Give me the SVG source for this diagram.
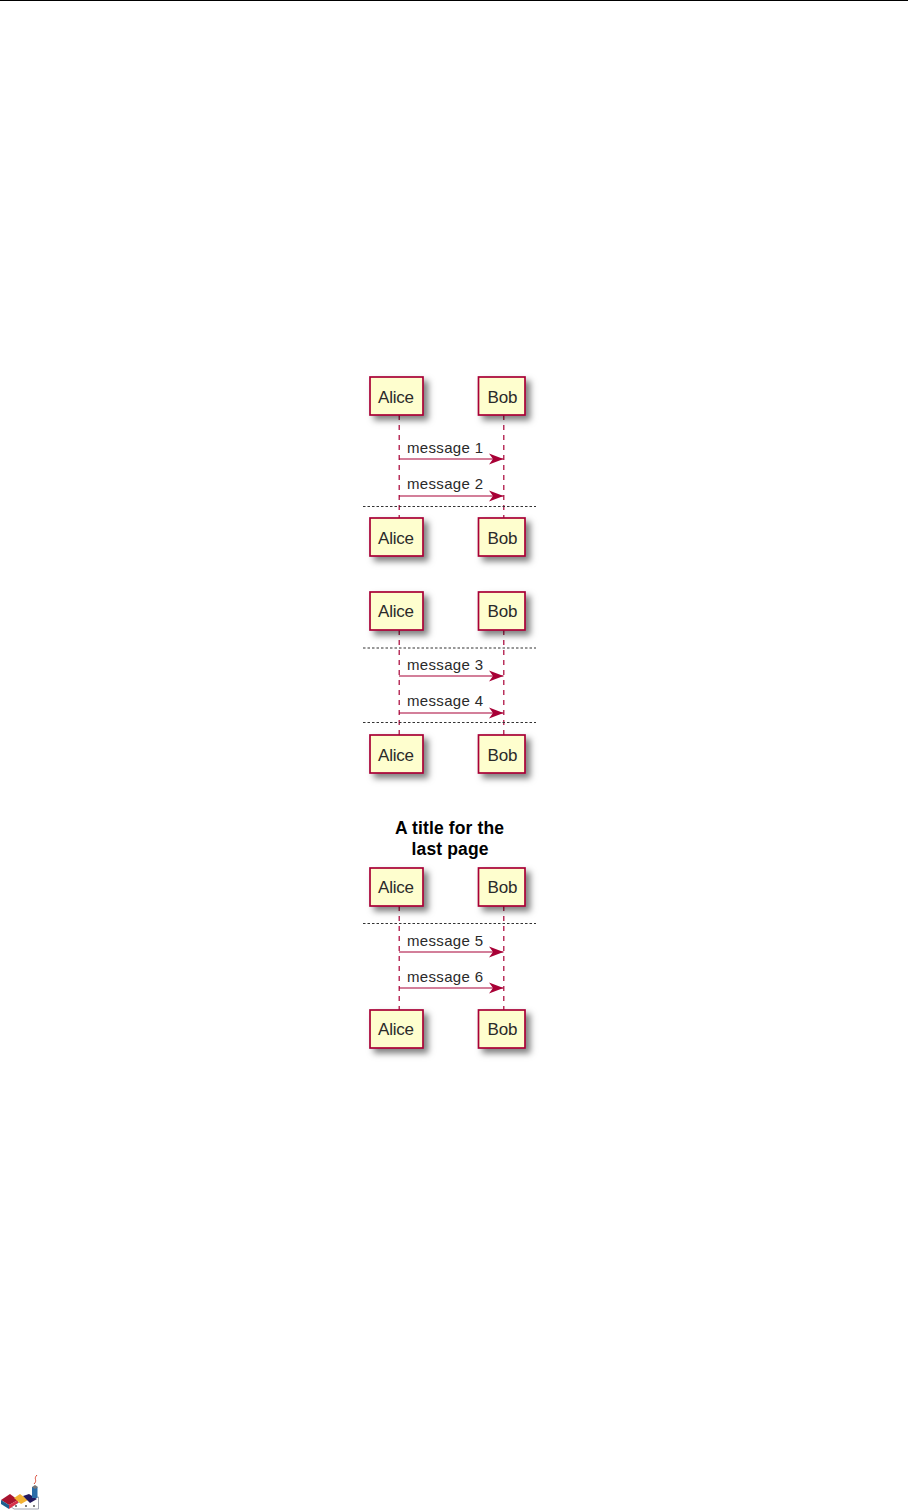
<svg xmlns="http://www.w3.org/2000/svg" width="908" height="1510" viewBox="0 0 908 1510">
<style>
text{font-family:"Liberation Sans",Arial,sans-serif;fill:#2a2a2a}
.n{font-size:17px;text-anchor:middle}
.m{font-size:15px}
.t{font-size:17.500px;font-weight:bold;text-anchor:middle;fill:#000}
.b{fill:#fefece;stroke:#a80036;stroke-width:1.7;filter:url(#s)}
.l{stroke:#a80036;stroke-width:1.200;stroke-dasharray:5 5;fill:none}
.a{stroke:#a80036;stroke-width:1.200;fill:none;marker-end:url(#h)}
.d{stroke:#333;stroke-width:1;stroke-dasharray:2.500 2;fill:none}
</style>
<defs>
<filter id="s" x="-30%" y="-30%" width="170%" height="170%"><feDropShadow dx="4.500" dy="4.500" stdDeviation="3" flood-color="#000" flood-opacity="0.5"/></filter>
<marker id="h" markerUnits="userSpaceOnUse" markerWidth="16" markerHeight="14" refX="14.500" refY="6" orient="auto"><path d="M0 .5L14.500 6L0 11.500L4 6Z" fill="#a80036"/></marker>
</defs>
<rect width="908" height="1510" fill="#fff"/>
<path d="M0 .5H908" stroke="#000" stroke-width="1"/>
<g id="connectors">
<path class="l" d="M399.200 415V518M503.800 415V518M399.200 630V735M503.800 630V735M399.200 906V1010M503.800 906V1010"/>
<path class="a" d="M399 459H503.500"/><path class="a" d="M399 496H503.500"/>
<path class="a" d="M399 676H503.500"/><path class="a" d="M399 713H503.500"/>
<path class="a" d="M399 952H503.500"/><path class="a" d="M399 988H503.500"/>
<path class="d" d="M363 506.500H536M363 648H536M363 722.500H536M363 923.500H536"/>
</g>
<g id="labels">
<text class="m" x="407" y="453" textLength="76">message 1</text>
<text class="m" x="407" y="489" textLength="76">message 2</text>
<text class="m" x="407" y="670" textLength="76">message 3</text>
<text class="m" x="407" y="706" textLength="76">message 4</text>
<text class="m" x="407" y="946" textLength="76">message 5</text>
<text class="m" x="407" y="982" textLength="76">message 6</text>
<text class="t" x="449.500" y="834" textLength="109">A title for the</text>
<text class="t" x="450" y="855" textLength="77">last page</text>
</g>
<g id="alice1"><rect class="b" x="370" y="377" width="53" height="38"/><text class="n" x="396" y="403" textLength="36">Alice</text></g>
<g id="bob1"><rect class="b" x="478.500" y="377" width="46.500" height="38"/><text class="n" x="502.500" y="403" textLength="30">Bob</text></g>
<g id="alice2"><rect class="b" x="370" y="518" width="53" height="38"/><text class="n" x="396" y="544" textLength="36">Alice</text></g>
<g id="bob2"><rect class="b" x="478.500" y="518" width="46.500" height="38"/><text class="n" x="502.500" y="544" textLength="30">Bob</text></g>
<g id="alice3"><rect class="b" x="370" y="592" width="53" height="38"/><text class="n" x="396" y="617" textLength="36">Alice</text></g>
<g id="bob3"><rect class="b" x="478.500" y="592" width="46.500" height="38"/><text class="n" x="502.500" y="617" textLength="30">Bob</text></g>
<g id="alice4"><rect class="b" x="370" y="735" width="53" height="38"/><text class="n" x="396" y="761" textLength="36">Alice</text></g>
<g id="bob4"><rect class="b" x="478.500" y="735" width="46.500" height="38"/><text class="n" x="502.500" y="761" textLength="30">Bob</text></g>
<g id="alice5"><rect class="b" x="370" y="868" width="53" height="38"/><text class="n" x="396" y="893" textLength="36">Alice</text></g>
<g id="bob5"><rect class="b" x="478.500" y="868" width="46.500" height="38"/><text class="n" x="502.500" y="893" textLength="30">Bob</text></g>
<g id="alice6"><rect class="b" x="370" y="1010" width="53" height="38"/><text class="n" x="396" y="1035" textLength="36">Alice</text></g>
<g id="bob6"><rect class="b" x="478.500" y="1010" width="46.500" height="38"/><text class="n" x="502.500" y="1035" textLength="30">Bob</text></g>
<g id="logo">
<path d="M10 1506L32 1497H38.500V1509H14Z" fill="#fff" stroke="#8a8fa0" stroke-width=".8"/>
<path d="M1 1500L10 1494L18 1500L9 1505Z" fill="#a8142f"/>
<path d="M1 1500V1504L9 1509V1505Z" fill="#1f5f8f"/>
<path d="M9 1505V1509L18 1503V1500Z" fill="#d8324a"/>
<path d="M14 1498L20 1494L28 1500L21 1504Z" fill="#f3b233"/>
<path d="M23 1496L29 1494L37 1499L30 1503Z" fill="#241a5e"/>
<rect x="32" y="1487" width="5.500" height="11" fill="#2b6ca8"/>
<path d="M32 1487L35 1485L38 1487L35 1489Z" fill="#777"/>
<path d="M37 1475C33 1479 38 1480 34 1484" stroke="#d8432f" stroke-width="1" fill="none"/>
<circle cx="16" cy="1506" r="1" fill="#555"/><circle cx="26" cy="1506" r="1" fill="#555"/><circle cx="34" cy="1506" r="1" fill="#555"/>
</g>
</svg>
